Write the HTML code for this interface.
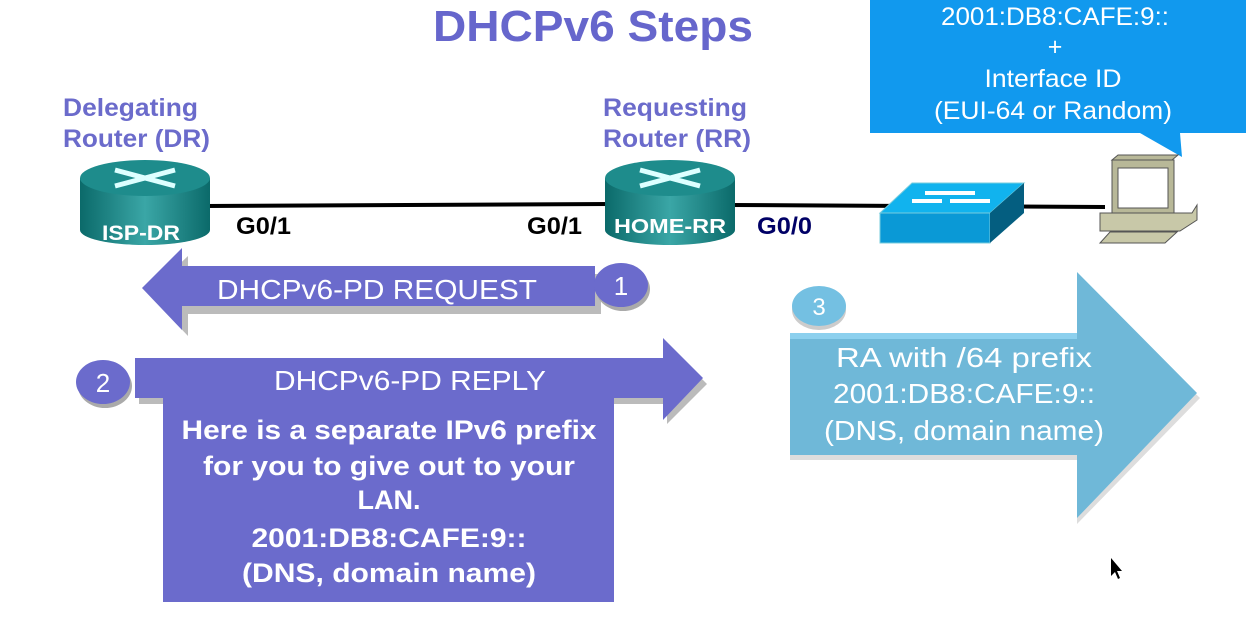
<!DOCTYPE html>
<html><head><meta charset="utf-8"><style>body{margin:0;background:#fff}svg{display:block}</style></head><body>
<svg width="1246" height="631" xmlns="http://www.w3.org/2000/svg" font-family="Liberation Sans, Arial, sans-serif">
<defs>
<linearGradient id="rg" x1="0" x2="1"><stop offset="0" stop-color="#0b6a6a"/><stop offset="0.5" stop-color="#3aa6a6"/><stop offset="1" stop-color="#0b6a6a"/></linearGradient>
</defs>
<text x="433" y="41" font-size="44" font-weight="bold" fill="#6666cc" textLength="320" lengthAdjust="spacingAndGlyphs">DHCPv6 Steps</text>
<g font-size="25" font-weight="bold" fill="#6b6bcb">
<text x="63" y="116" textLength="135" lengthAdjust="spacingAndGlyphs">Delegating</text><text x="63" y="147" textLength="147" lengthAdjust="spacingAndGlyphs">Router (DR)</text>
<text x="603" y="116" textLength="144" lengthAdjust="spacingAndGlyphs">Requesting</text><text x="603" y="147" textLength="148" lengthAdjust="spacingAndGlyphs">Router (RR)</text>
</g>
<!-- callout -->
<polygon points="870,0 1246,0 1246,133 1180,133 1182,157 1140,133 870,133" fill="#1199ee"/>
<g font-size="25" fill="#fff" text-anchor="middle">
<text x="1055" y="25" textLength="228" lengthAdjust="spacingAndGlyphs">2001:DB8:CAFE:9::</text><text x="1055" y="55">+</text>
<text x="1053" y="87" textLength="137" lengthAdjust="spacingAndGlyphs">Interface ID</text><text x="1053" y="119" textLength="238" lengthAdjust="spacingAndGlyphs">(EUI-64 or Random)</text>
</g>
<!-- links -->
<line x1="205" y1="206" x2="610" y2="204" stroke="#000" stroke-width="4"/>
<line x1="730" y1="205" x2="1105" y2="207" stroke="#000" stroke-width="4"/>
<!-- routers -->
<g>
<rect x="80" y="178" width="130" height="52" fill="url(#rg)"/><ellipse cx="145" cy="230" rx="65" ry="15" fill="url(#rg)"/><ellipse cx="145" cy="178" rx="65" ry="18" fill="#1e8c8c"/>
<path d="M115 170 l60 16 M115 186 l60 -16" stroke="#dff" stroke-width="5"/>
<text x="141" y="240" text-anchor="middle" font-size="21" font-weight="bold" fill="#fff" textLength="78" lengthAdjust="spacingAndGlyphs">ISP-DR</text>
<rect x="605" y="178" width="130" height="52" fill="url(#rg)"/><ellipse cx="670" cy="230" rx="65" ry="15" fill="url(#rg)"/><ellipse cx="670" cy="178" rx="65" ry="18" fill="#1e8c8c"/>
<path d="M640 170 l60 16 M640 186 l60 -16" stroke="#dff" stroke-width="5"/>
<text x="670" y="233" text-anchor="middle" font-size="20" font-weight="bold" fill="#fff" textLength="112" lengthAdjust="spacingAndGlyphs">HOME-RR</text>
</g>
<g font-size="24" font-weight="bold">
<text x="236" y="234" textLength="55" lengthAdjust="spacingAndGlyphs">G0/1</text><text x="527" y="234" textLength="55" lengthAdjust="spacingAndGlyphs">G0/1</text><text x="757" y="234" fill="#000066" textLength="55" lengthAdjust="spacingAndGlyphs">G0/0</text>
</g>
<!-- switch -->
<polygon points="880,213 912,183 1024,183 990,213" fill="#11b3ee" stroke="#7cd" />
<rect x="880" y="213" width="110" height="30" fill="#0a99d6" stroke="#7cd"/>
<polygon points="990,213 1024,183 1024,213 990,243" fill="#045e80"/>
<path d="M912 201 l30 0 M940 193 l35 0 M925 193 l30 0 M950 201 l40 0" stroke="#fff" stroke-width="4"/>
<!-- pc -->
<polygon points="1112,160 1172,160 1178,155 1118,155" fill="#b8b898" stroke="#555"/>
<rect x="1112" y="160" width="62" height="56" fill="#b8b898" stroke="#555"/>
<rect x="1118" y="168" width="50" height="40" fill="#fff" stroke="#555"/>
<polygon points="1100,213 1192,213 1197,205 1197,220 1180,231 1100,231" fill="#c8c8a8" stroke="#555"/>
<polygon points="1100,243 1165,243 1177,232 1110,232" fill="#c8c8a8" stroke="#555"/>
<!-- arrow 1 -->
<polygon points="148,294 188,256 188,274 601,274 601,314 188,314 188,336" fill="#bbb"/>
<polygon points="142,288 182,248 182,266 595,266 595,306 182,306 182,330" fill="#6b6bcc"/>
<text x="217" y="299" font-size="28" fill="#fff" textLength="320" lengthAdjust="spacingAndGlyphs">DHCPv6-PD REQUEST</text>
<ellipse cx="623" cy="289" rx="27" ry="22" fill="#aaa"/>
<ellipse cx="621" cy="285" rx="27" ry="22" fill="#6b6bcc"/>
<text x="621" y="295" text-anchor="middle" font-size="26" fill="#fff">1</text>
<!-- arrow 2 -->
<polygon points="139,364 667,364 667,344 707,384 667,424 667,404 139,404" fill="#bbb"/>
<polygon points="135,358 663,358 663,338 703,378 663,420 663,398 135,398" fill="#6b6bcc"/>
<ellipse cx="105" cy="386" rx="27" ry="22" fill="#aaa"/>
<ellipse cx="103" cy="382" rx="27" ry="22" fill="#6b6bcc"/>
<text x="103" y="392" text-anchor="middle" font-size="26" fill="#fff">2</text>
<text x="274" y="390" font-size="28" fill="#fff" textLength="272" lengthAdjust="spacingAndGlyphs">DHCPv6-PD REPLY</text>
<rect x="163" y="398" width="451" height="204" fill="#6b6bcc"/>
<g font-size="27" font-weight="bold" fill="#fff" text-anchor="middle">
<text x="389" y="439" textLength="415" lengthAdjust="spacingAndGlyphs">Here is a separate IPv6 prefix</text>
<text x="389" y="475" textLength="372" lengthAdjust="spacingAndGlyphs">for you to give out to your</text>
<text x="389" y="509">LAN.</text>
<text x="389" y="547" textLength="275" lengthAdjust="spacingAndGlyphs">2001:DB8:CAFE:9::</text>
<text x="389" y="582" textLength="294" lengthAdjust="spacingAndGlyphs">(DNS, domain name)</text>
</g>
<!-- arrow 3 -->
<polygon points="790,455 1077,455 1077,524 1200,398 1080,282 1080,460 790,460" fill="#ddd"/>
<polygon points="790,333 1077,333 1077,272 1197,393 1077,518 1077,455 790,455" fill="#6fb8d8"/>
<rect x="790" y="333" width="287" height="6" fill="#8cd0ee"/>
<ellipse cx="819" cy="310" rx="27" ry="20" fill="#ccc"/>
<ellipse cx="819" cy="306" rx="27" ry="20" fill="#74c0e2"/>
<text x="819" y="315" text-anchor="middle" font-size="24" fill="#fff">3</text>
<g font-size="28" fill="#fff" text-anchor="middle">
<text x="964" y="367" textLength="256" lengthAdjust="spacingAndGlyphs">RA with /64 prefix</text>
<text x="964" y="403" textLength="262" lengthAdjust="spacingAndGlyphs">2001:DB8:CAFE:9::</text>
<text x="964" y="440" textLength="280" lengthAdjust="spacingAndGlyphs">(DNS, domain name)</text>
</g>
<polygon points="1111,558 1111,576 1115,572 1118,579 1120,578 1117,571 1122,571" fill="#000"/>
</svg>
</body></html>
